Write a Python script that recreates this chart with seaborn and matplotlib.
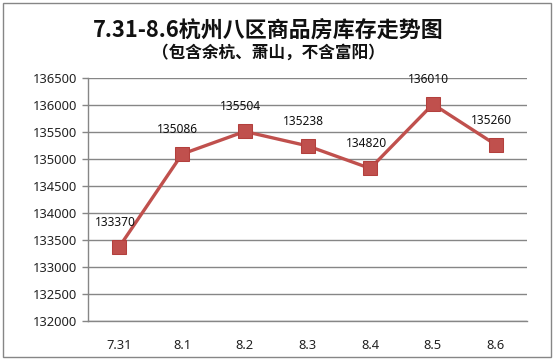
import matplotlib
matplotlib.use("Agg")
import matplotlib.pyplot as plt
import seaborn as sns
from matplotlib.patches import Rectangle

dates = ["7.31", "8.1", "8.2", "8.3", "8.4", "8.5", "8.6"]
inventory = [133370, 135086, 135504, 135238, 134820, 136010, 135260]
y_ticks = list(range(132000, 137000, 500))

sns.set_theme(style="white")
plt.rcParams['font.family'] = ['Noto Sans CJK SC', 'DejaVu Sans']

fig = plt.figure(figsize=(5.54, 3.61), dpi=100)
ax = fig.add_axes([88/554, 1-320.7/361, (527-88)/554, (320.7-77.7)/361])

line_color = "#C0504D"
sns.lineplot(x=dates, y=inventory, ax=ax, color=line_color, linewidth=2.4,
             marker='s', markersize=10, markeredgecolor="#B3403D", sort=False)

ax.set_xlim(-0.5, len(dates) - 0.5)
ax.set_ylim(132000, 136500)
ax.set_yticks(y_ticks)
ax.set_yticklabels([str(t) for t in y_ticks], fontsize=9.3, color="#222222",
                   family=['Noto Sans', 'DejaVu Sans'])
ax.set_xticks(range(len(dates)))
ax.set_xticklabels(dates, fontsize=9.3, color="#222222", family=['Noto Sans', 'DejaVu Sans'])
ax.set_xticks([i - 0.5 for i in range(len(dates) + 1)], minor=True)
ax.tick_params(axis='x', which='major', length=0, pad=13)
ax.tick_params(axis='x', which='minor', length=4, color="#868686", width=1, direction='out')
ax.tick_params(axis='y', length=4, color="#868686", width=1, direction='out', left=True, pad=4)
ax.set_xlabel("")
ax.set_ylabel("")

ax.grid(axis='y', color="#868686", linewidth=1)
ax.set_axisbelow(True)
for s in ['top', 'right']:
    ax.spines[s].set_visible(False)
for s in ['left', 'bottom']:
    ax.spines[s].set_color("#868686")
    ax.spines[s].set_linewidth(1)

for i, v in enumerate(inventory):
    ax.annotate(str(v), (i, v), xytext=(-3, 13), textcoords='offset points',
                ha='center', va='bottom', fontsize=8.6, color="#111111",
                family=['Noto Sans', 'DejaVu Sans'])

fig.text(268/554, 1-30/361, "7.31-8.6杭州八区商品房库存走势图", ha='center', va='center',
         fontsize=15.8, fontweight='bold', color="#111111")
fig.text(268/554, 1-53/361, "（包含余杭、萧山，不含富阳）", ha='center', va='center',
         fontsize=12, fontweight='bold', color="#111111")

fig.patches.append(Rectangle((3/554, 1-357/361), 548/554, 354/361, transform=fig.transFigure,
                             fill=False, edgecolor="#868686", linewidth=1))

fig.savefig("out.png", dpi=100)
